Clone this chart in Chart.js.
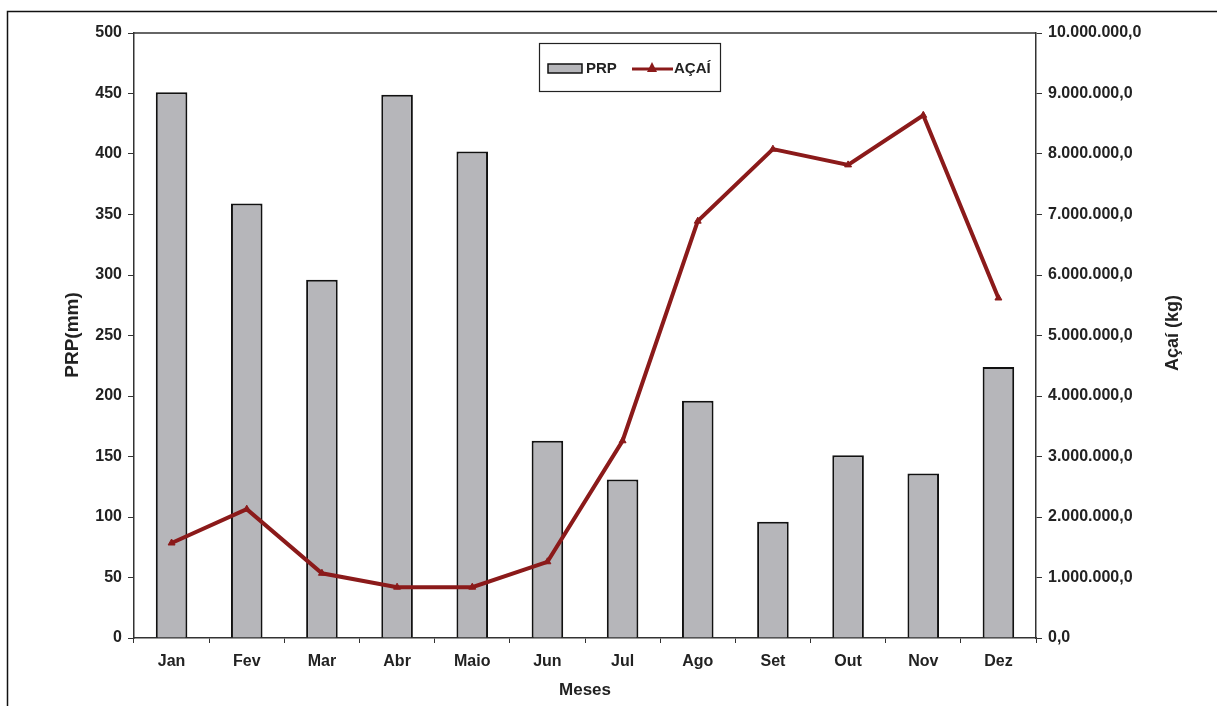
<!DOCTYPE html>
<html>
<head>
<meta charset="utf-8">
<script src="https://cdn.jsdelivr.net/npm/chart.js@4/dist/chart.umd.min.js"></script>
<style>
  html, body { margin: 0; padding: 0; background: #fff; }
  #wrap { position: relative; width: 1217px; height: 706px; }
</style>
</head>
<body>
<div id="wrap"><canvas id="c" width="1217" height="706"></canvas></div>
<script>
// Monthly rainfall (PRP, mm) and açaí production (kg)
const meses = ['Jan', 'Fev', 'Mar', 'Abr', 'Maio', 'Jun', 'Jul', 'Ago', 'Set', 'Out', 'Nov', 'Dez'];
const prp = [451, 359, 296, 449, 402, 163, 131, 196, 96, 151, 136, 224];
const acai = [1570000, 2130000, 1070000, 840000, 840000, 1260000, 3260000, 6890000, 8080000, 7820000, 8640000, 5620000];

const FONT = '"Liberation Sans", Arial, sans-serif';
const RED = '#8b1a1a';
const BAR = '#b6b6ba';
const TICK_FONT = { family: FONT, size: 16, weight: 'bold' };

function fmtKg(v) {
  return Math.round(v).toString().replace(/\B(?=(\d{3})+(?!\d))/g, '.') + ',0';
}

// Frame, plot border, axis titles and legend
const decor = {
  id: 'decor',
  beforeDatasetsDraw(chart) {
    const { ctx, chartArea: a } = chart;
    ctx.save();
    ctx.strokeStyle = '#333';
    ctx.lineWidth = 1.5;
    ctx.beginPath();
    ctx.moveTo(a.left, a.top);
    ctx.lineTo(a.right, a.top);
    ctx.stroke();
    ctx.restore();
  },
  afterDraw(chart) {
    const { ctx } = chart;
    ctx.save();
    // outer frame
    ctx.strokeStyle = '#111';
    ctx.lineWidth = 1.5;
    ctx.beginPath();
    ctx.moveTo(7.5, 710);
    ctx.lineTo(7.5, 11.5);
    ctx.lineTo(1220, 11.5);
    ctx.stroke();

    // axis titles
    ctx.fillStyle = '#222';
    ctx.textAlign = 'center';
    ctx.textBaseline = 'middle';
    ctx.font = 'bold 19px ' + FONT;
    ctx.save();
    ctx.translate(73, 335);
    ctx.rotate(-Math.PI / 2);
    ctx.fillText('PRP(mm)', 0, 0);
    ctx.restore();
    ctx.save();
    ctx.translate(1173, 333);
    ctx.rotate(-Math.PI / 2);
    ctx.font = 'bold 18px ' + FONT;
    ctx.fillText('Açaí (kg)', 0, 0);
    ctx.restore();
    ctx.font = 'bold 17px ' + FONT;
    ctx.fillText('Meses', 585, 690);

    // legend
    ctx.fillStyle = '#fff';
    ctx.fillRect(539, 43, 182, 49);
    ctx.strokeStyle = '#222';
    ctx.lineWidth = 1.2;
    ctx.strokeRect(539.5, 43.5, 181, 48);
    ctx.fillStyle = BAR;
    ctx.fillRect(548, 64, 34, 9);
    ctx.strokeStyle = '#111';
    ctx.lineWidth = 1.5;
    ctx.strokeRect(548, 64, 34, 9);
    ctx.fillStyle = '#222';
    ctx.textAlign = 'left';
    ctx.font = 'bold 15px ' + FONT;
    ctx.fillText('PRP', 586, 69);
    ctx.strokeStyle = RED;
    ctx.lineWidth = 3;
    ctx.beginPath();
    ctx.moveTo(632, 69);
    ctx.lineTo(673, 69);
    ctx.stroke();
    ctx.fillStyle = RED;
    ctx.beginPath();
    ctx.moveTo(652, 62);
    ctx.lineTo(657, 72);
    ctx.lineTo(647, 72);
    ctx.closePath();
    ctx.fill();
    ctx.fillStyle = '#222';
    ctx.fillText('AÇAÍ', 674, 69);
    ctx.restore();
  }
};

new Chart(document.getElementById('c'), {
  data: {
    labels: meses,
    datasets: [
      {
        type: 'line',
        label: 'AÇAÍ',
        data: acai,
        yAxisID: 'y1',
        borderColor: RED,
        backgroundColor: RED,
        borderWidth: 4,
        pointStyle: 'triangle',
        pointRadius: 4,
        pointBorderWidth: 1,
        tension: 0,
        order: 0
      },
      {
        type: 'bar',
        label: 'PRP',
        data: prp,
        yAxisID: 'y',
        backgroundColor: BAR,
        borderColor: '#111',
        borderWidth: 2,
        borderSkipped: 'bottom',
        barPercentage: 0.42,
        categoryPercentage: 1,
        order: 1
      }
    ]
  },
  options: {
    responsive: false,
    animation: false,
    layout: { padding: { top: 33, left: 0, right: 0, bottom: 0 } },
    plugins: { legend: { display: false }, tooltip: { enabled: false } },
    scales: {
      x: {
        offset: true,
        grid: { display: true, drawOnChartArea: false, offset: true, tickLength: 5, color: '#333', lineWidth: 1 },
        border: { color: '#333', width: 1.5 },
        ticks: { color: '#222', font: TICK_FONT, padding: 9 },
        afterFit(s) { s.height = 68; }
      },
      y: {
        position: 'left',
        min: 0, max: 500,
        ticks: { stepSize: 50, color: '#222', font: TICK_FONT, padding: 6 },
        grid: { drawOnChartArea: false, tickLength: 6, color: '#333' },
        border: { color: '#333', width: 1.5 },
        afterFit(s) { s.width = 134; }
      },
      y1: {
        position: 'right',
        min: 0, max: 10000000,
        ticks: { stepSize: 1000000, color: '#222', font: TICK_FONT, padding: 6,
                 callback: (v) => fmtKg(v) },
        grid: { drawOnChartArea: false, tickLength: 6, color: '#333' },
        border: { color: '#333', width: 1.5 },
        afterFit(s) { s.width = 181; }
      }
    }
  },
  plugins: [decor]
});
</script>
</body>
</html>
